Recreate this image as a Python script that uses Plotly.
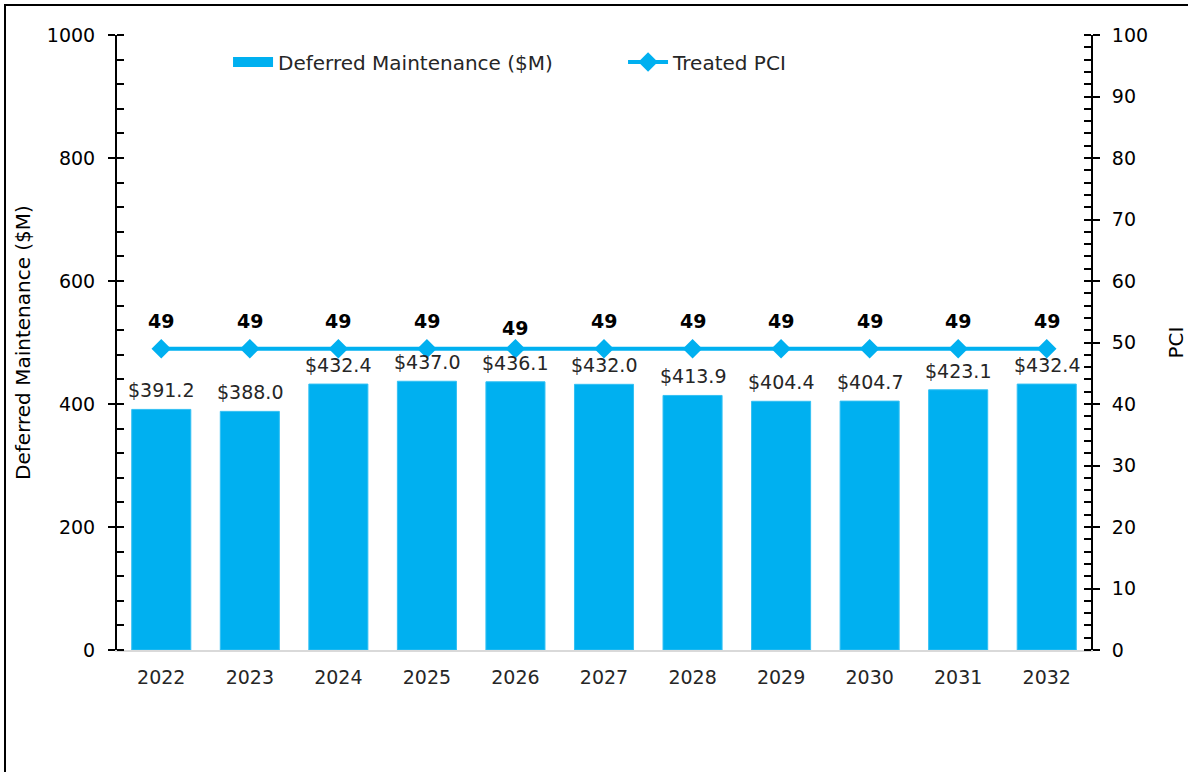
import plotly.graph_objects as go

years = ["2022", "2023", "2024", "2025", "2026", "2027", "2028", "2029", "2030", "2031", "2032"]
deferred = [391.2, 388.0, 432.4, 437.0, 436.1, 432.0, 413.9, 404.4, 404.7, 423.1, 432.4]
pci = [49, 49, 49, 49, 49, 49, 49, 49, 49, 49, 49]
pci_label_shift = [15, 15, 15, 15, 8, 15, 15, 15, 15, 15, 15]

BLUE = "#00B0F0"
FONT = "DejaVu Sans"

fig = go.Figure()
fig.add_trace(go.Bar(
    x=years, y=deferred, name="Deferred Maintenance ($M)",
    marker=dict(color=BLUE, line=dict(color="#33C0F3", width=1)),
    yaxis="y", showlegend=False,
))
# legend proxy for the bar series (wide rectangle swatch)
fig.add_trace(go.Scatter(
    x=[None], y=[None], name="Deferred Maintenance ($M)", mode="lines",
    line=dict(color=BLUE, width=14), yaxis="y", hoverinfo="skip",
))
fig.add_trace(go.Scatter(
    x=years, y=pci, name="Treated PCI", mode="lines+markers",
    line=dict(color=BLUE, width=4),
    marker=dict(symbol="diamond", size=15, color=BLUE),
    yaxis="y2",
))

annotations = []
for i, v in enumerate(deferred):
    annotations.append(dict(x=i, y=v, xref="x", yref="y", text=f"${v:.1f}",
                            showarrow=False, yanchor="bottom", yshift=6,
                            font=dict(family=FONT, size=19, color="#262626")))
for i, (v, s) in enumerate(zip(pci, pci_label_shift)):
    annotations.append(dict(x=i, y=v, xref="x", yref="y2", text=f"<b>{v}</b>",
                            showarrow=False, yanchor="bottom", yshift=s,
                            font=dict(family=FONT, size=19, color="#000000")))

fig.update_layout(
    width=1188, height=772,
    margin=dict(l=117, r=97, t=35, b=122),
    paper_bgcolor="white", plot_bgcolor="white",
    font=dict(family=FONT, size=19, color="#262626"),
    bargap=0.333,
    showlegend=True,
    legend=dict(orientation="h", x=0.114, y=0.956, xanchor="left", yanchor="middle",
                font=dict(family=FONT, size=20, color="#262626"),
                bgcolor="rgba(0,0,0,0)", entrywidth=340, itemwidth=40),
    xaxis=dict(type="category", range=[-0.5, 10.5], showline=True, linecolor="#D9D9D9",
               linewidth=2, ticks="", showgrid=False, tickfont=dict(size=19),
               ticklabelstandoff=9, automargin=False),
    yaxis=dict(range=[0, 1000], tickvals=[0, 200, 400, 600, 800, 1000],
               showline=True, linecolor="black", linewidth=2,
               ticks="outside", ticklen=7, tickwidth=2, tickcolor="black",
               minor=dict(dtick=40, ticks="inside", ticklen=7, tickwidth=2, tickcolor="black"),
               showgrid=False, zeroline=False, tickfont=dict(size=19, color="#000000"),
               ticklabelstandoff=9, automargin=False,
               title=dict(text="Deferred Maintenance ($M)", font=dict(family=FONT, size=20, color="#000000"), standoff=11)),
    yaxis2=dict(range=[0, 100], tickvals=list(range(0, 101, 10)), overlaying="y", side="right",
                showline=True, linecolor="black", linewidth=2,
                ticks="outside", ticklen=7, tickwidth=2, tickcolor="black",
                minor=dict(dtick=2, ticks="inside", ticklen=7, tickwidth=2, tickcolor="black"),
                showgrid=False, zeroline=False, tickfont=dict(size=19, color="#000000"),
                ticklabelstandoff=8, automargin=False,
                title=dict(text="PCI", font=dict(family=FONT, size=20, color="#000000"), standoff=30)),
    annotations=annotations,
    shapes=[dict(type="rect", xref="paper", yref="paper",
                 x0=(5 - 117) / 974, x1=(1200 - 117) / 974,
                 y0=(650 - 790) / 615, y1=(650 - 5) / 615,
                 line=dict(color="black", width=2), fillcolor="rgba(0,0,0,0)", layer="below")],
)

fig.write_html("out.html", config={"displayModeBar": False},
               post_script="document.body.style.margin='0';")
